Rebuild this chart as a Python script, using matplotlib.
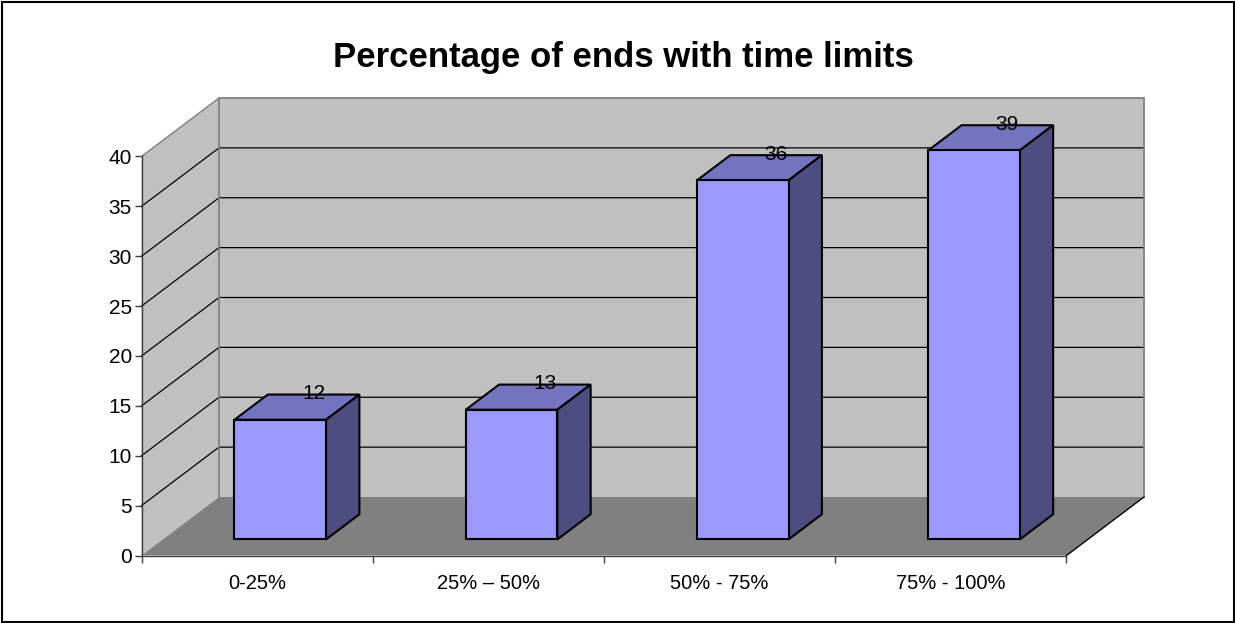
import matplotlib
matplotlib.use("Agg")
import matplotlib.pyplot as plt
from matplotlib.patches import Polygon, Rectangle

plt.rcParams["font.family"] = ["Liberation Sans", "DejaVu Sans"]

categories = ["0-25%", "25% \u2013 50%", "50% - 75%", "75% - 100%"]
values = [12, 13, 36, 39]
y_ticks = [0, 5, 10, 15, 20, 25, 30, 35, 40]
title = "Percentage of ends with time limits"

W, H = 1235, 623
# plot box of the front plane, in figure pixels
LEFT, RIGHT, BOTTOM, TOP = 141.5, 1066.5, 555.5, 156.5

# shift of the back wall relative to the front plane, in data units
DEPTH_X = 77.5 / 231.25
DEPTH_Y = 58.5 / 9.975

# where a bar sits inside its category slot
BAR_WIDTH = 0.396
BAR_GAP = 0.31
BAR_FRONT = 0.275
BAR_DEPTH = 0.43

WALL = "#c0c0c0"
FLOOR = "#808080"
BAR_FACE = "#9999ff"
BAR_TOP = "#7373bf"
BAR_SIDE = "#4d4d80"


def project(x, y, depth):
    return (x + depth * DEPTH_X, y + depth * DEPTH_Y)


def draw_bar(ax, slot, value):
    x0 = slot + BAR_GAP
    x1 = x0 + BAR_WIDTH
    d0 = BAR_FRONT
    d1 = BAR_FRONT + BAR_DEPTH
    style = dict(edgecolor="black", linewidth=1.5, joinstyle="miter",
                 clip_on=False, zorder=5)

    top = [project(x0, value, d0), project(x1, value, d0),
           project(x1, value, d1), project(x0, value, d1)]
    side = [project(x1, 0, d0), project(x1, 0, d1),
            project(x1, value, d1), project(x1, value, d0)]
    front = [project(x0, 0, d0), project(x1, 0, d0),
             project(x1, value, d0), project(x0, value, d0)]
    ax.add_patch(Polygon(top, facecolor=BAR_TOP, **style))
    ax.add_patch(Polygon(side, facecolor=BAR_SIDE, **style))
    ax.add_patch(Polygon(front, facecolor=BAR_FACE, **style))

    # value label sits around the middle of the bar's top face
    lx, ly = project((x0 + x1) / 2, value, d1)
    ax.text(lx, ly + 0.1, str(value), ha="center", va="center",
            fontsize=15, color="black", zorder=6, clip_on=False)


fig = plt.figure(figsize=(W / 100, H / 100), dpi=100)
fig.patch.set_facecolor("white")

# outer chart border
fig.add_artist(Rectangle((1.5 / W, 1.5 / H), (W - 3) / W, (H - 3) / H,
                         transform=fig.transFigure, fill=False,
                         edgecolor="black", linewidth=1.5))

ax = fig.add_axes([LEFT / W, 1 - BOTTOM / H, (RIGHT - LEFT) / W, (BOTTOM - TOP) / H])
ax.patch.set_visible(False)
n = len(categories)
ymax = y_ticks[-1]
ax.set_xlim(0, n)
ax.set_ylim(0, ymax)

# walls and floor
ax.add_patch(Polygon([project(0, 0, 0), project(0, 0, 1), project(0, ymax, 1), project(0, ymax, 0)],
                     facecolor=WALL, edgecolor="none", clip_on=False, zorder=1))
ax.add_patch(Polygon([project(0, 0, 1), project(n, 0, 1), project(n, ymax, 1), project(0, ymax, 1)],
                     facecolor=WALL, edgecolor="none", clip_on=False, zorder=1))
ax.add_patch(Polygon([project(0, 0, 0), project(n, 0, 0), project(n, 0, 1), project(0, 0, 1)],
                     facecolor=FLOOR, edgecolor="none", clip_on=False, zorder=2))

# grid lines run along the side wall and across the back wall
for t in y_ticks[1:-1]:
    pts = [project(0, t, 0), project(0, t, 1), project(n, t, 1)]
    ax.plot(*zip(*pts), color="black", linewidth=0.9, clip_on=False, zorder=3)

# gray outline of the walls
outline = [project(0, 0, 1), project(0, ymax, 1), project(n, ymax, 1), project(n, 0, 1)]
ax.plot(*zip(*outline), color=FLOOR, linewidth=1.3, clip_on=False, zorder=3)
top_edge = [project(0, ymax, 0), project(0, ymax, 1)]
ax.plot(*zip(*top_edge), color=FLOOR, linewidth=1.0, clip_on=False, zorder=3)

# front right edge of the floor
edge = [project(n, 0, 0), project(n, 0, 1)]
ax.plot(*zip(*edge), color="black", linewidth=1.0, clip_on=False, zorder=3)

for i, v in enumerate(values):
    draw_bar(ax, i, v)

for name in ["top", "right"]:
    ax.spines[name].set_visible(False)
for name in ["left", "bottom"]:
    ax.spines[name].set_color("#404040")
    ax.spines[name].set_linewidth(1.0)
    ax.spines[name].set_zorder(4)

ax.set_yticks(y_ticks)
ax.set_xticks(range(n + 1))
ax.set_xticklabels([])
ax.set_xticks([i + 0.5 for i in range(n)], minor=True)
ax.set_xticklabels(categories, minor=True)
ax.tick_params(axis="x", which="major", length=5, width=1.0, color="#404040")
ax.tick_params(axis="x", which="minor", length=0, pad=13, labelsize=14.5)
ax.tick_params(axis="y", which="major", length=5, width=1.0, color="#404040", pad=2, labelsize=15)

fig.text(623 / W, 1 - 57 / H, title, ha="center", va="center",
         fontsize=25, fontweight="bold", color="black")

fig.savefig("out.png", dpi=100)
plt.close(fig)
